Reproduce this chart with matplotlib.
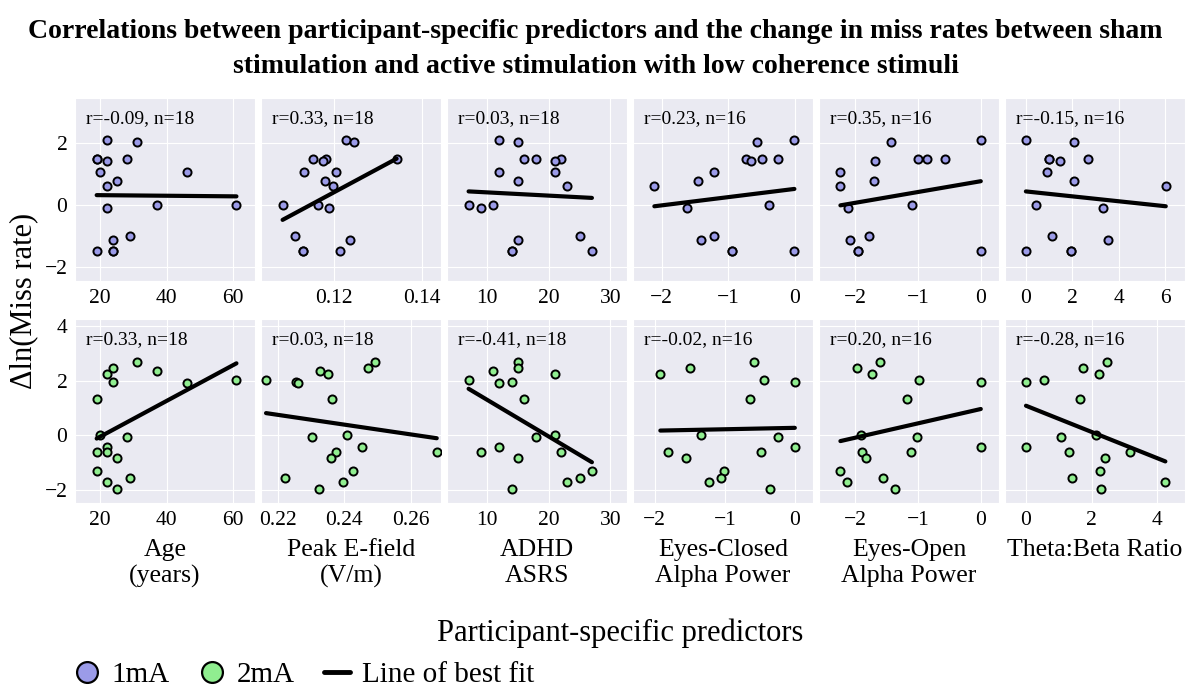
import numpy as np
import matplotlib.pyplot as plt
import seaborn as sns
from matplotlib.lines import Line2D
from matplotlib.ticker import MultipleLocator

sns.set_style('darkgrid')
plt.rcParams['font.family'] = ['Liberation Serif', 'DejaVu Serif']
plt.rcParams.update({'text.color': 'black', 'axes.labelcolor': 'black',
                     'xtick.color': 'black', 'ytick.color': 'black'})

predictors = ['Age\n(years)', 'Peak E-field\n(V/m)', 'ADHD\nASRS',
              'Eyes-Closed\nAlpha Power', 'Eyes-Open\nAlpha Power', 'Theta:Beta Ratio']

# 1mA group: change in ln(miss rate) and predictors, one entry per participant
dln_1ma = [2.09, 2.03, 1.49, 1.49, 1.49, 1.42, 1.06, 1.06, 0.78, 0.61,
           0.0, 0.0, -0.12, -1.01, -1.15, -1.51, -1.51, -1.51]
age_1ma = [22, 31, 19, 28, 19, 22, 20, 46, 25, 22, 37, 61, 22, 29, 24, 19, 24, 24]
efield_1ma = [0.1226, 0.1246, 0.1152, 0.1182, 0.1342, 0.1175, 0.1131, 0.1205, 0.1179,
              0.1198, 0.1083, 0.1164, 0.1188, 0.1111, 0.1236, 0.1130, 0.1214, 0.1130]
adhd_1ma = [12, 15, 16, 18, 22, 21, 12, 21, 15, 23, 7, 11, 9, 25, 15, 14, 27, 14]
ec_alpha_1ma = [-0.01, -0.57, -0.74, -0.49, -0.25, -0.66, -1.22, np.nan, -1.45, -2.11,
                -0.39, np.nan, -1.62, -1.22, -1.41, -0.94, -0.01, -0.94]
eo_alpha_1ma = [0.0, -1.43, -1.0, -0.85, -0.57, -1.68, -2.23, np.nan, -1.70, -2.23,
                -1.09, np.nan, -2.11, -1.77, -2.08, -1.95, 0.0, -1.95]
tbr_1ma = [0.0, 2.06, 0.99, 2.69, 0.99, 1.47, 0.91, np.nan, 2.06, 6.03,
           0.43, np.nan, 3.31, 1.14, 3.53, 0.0, 1.94, 1.94]
r_1ma = [-0.09, 0.33, 0.03, 0.23, 0.35, -0.15]
slope_1ma = [-0.00095, 76.4, -0.0105, 0.267, 0.350, -0.0796]
icpt_1ma = [0.328, -8.764, 0.504, 0.513, 0.76, 0.43]

# 2mA group
dln_2ma = [2.69, 2.46, 2.37, 2.26, 2.04, 1.97, 1.92, 1.35, 0.0, -0.07,
           -0.42, -0.61, -0.62, -0.81, -1.30, -1.54, -1.69, -1.97]
age_2ma = [31, 24, 37, 22, 61, 24, 46, 19, 20, 28, 22, 22, 19, 25, 19, 29, 22, 25]
efield_2ma = [0.2492, 0.2470, 0.2328, 0.2350, 0.2165, 0.2256, 0.2262, 0.2364, 0.2409,
              0.2303, 0.2452, 0.2374, 0.2677, 0.2359, 0.2425, 0.2221, 0.2395, 0.2325]
adhd_2ma = [15, 15, 11, 21, 7, 14, 12, 16, 21, 18, 12, 9, 22, 15, 27, 25, 23, 14]
ec_alpha_2ma = [-0.58, -1.49, np.nan, -1.92, -0.44, 0.0, np.nan, -0.64, -1.34, -0.24,
                0.0, -1.81, -0.48, -1.55, -1.01, -1.05, -1.22, -0.36]
eo_alpha_2ma = [-1.60, -1.97, np.nan, -1.73, -0.98, 0.0, np.nan, -1.17, -1.91, -1.02,
                0.0, -1.88, -1.11, -1.82, -2.23, -1.56, -2.12, -1.36]
tbr_2ma = [2.46, 1.75, np.nan, 2.23, 0.55, 0.0, np.nan, 1.65, 2.13, 1.06,
           0.0, 3.18, 1.31, 2.42, 2.25, 1.39, 4.25, 2.28]
r_2ma = [0.33, 0.03, -0.41, -0.02, 0.20, -0.28]
slope_2ma = [0.0656, -17.97, -0.1345, 0.052, 0.527, -0.48]
icpt_2ma = [-1.359, 4.71, 2.652, 0.28, 0.97, 1.09]

# axis ranges and tick steps per panel
xlim_1ma = [(12.5, 66.6), (0.1034, 0.1443), (3.5, 32.7), (-2.43, 0.27), (-2.57, 0.29), (-0.9, 6.86)]
xlim_2ma = [(12.5, 66.6), (0.215, 0.269), (3.5, 32.7), (-2.31, 0.26), (-2.57, 0.29), (-0.64, 4.85)]
xstep_1ma = [20, 0.02, 10, 1, 1, 2]
xstep_2ma = [20, 0.02, 10, 1, 1, 2]

rows = [
    dict(y=dln_1ma, xs=[age_1ma, efield_1ma, adhd_1ma, ec_alpha_1ma, eo_alpha_1ma, tbr_1ma],
         r=r_1ma, slope=slope_1ma, icpt=icpt_1ma, xlim=xlim_1ma, xstep=xstep_1ma,
         color='#9b9be8', ylim=(-2.48, 3.45), yticks=[-2, 0, 2]),
    dict(y=dln_2ma, xs=[age_2ma, efield_2ma, adhd_2ma, ec_alpha_2ma, eo_alpha_2ma, tbr_2ma],
         r=r_2ma, slope=slope_2ma, icpt=icpt_2ma, xlim=xlim_2ma, xstep=xstep_2ma,
         color='#90ee90', ylim=(-2.47, 4.25), yticks=[-2, 0, 2, 4]),
]

fig = plt.figure(figsize=(11.91, 6.88), dpi=100)
axes = fig.subplots(2, 6, sharey='row',
                    gridspec_kw=dict(left=0.063, right=0.995, top=0.8576, bottom=0.269,
                                     wspace=0.033, hspace=0.207))

for i, row in enumerate(rows):
    y = np.array(row['y'])
    for j in range(6):
        ax = axes[i, j]
        x = np.array(row['xs'][j], dtype=float)
        ok = ~np.isnan(x)
        ax.scatter(x[ok], y[ok], s=34, color=row['color'], edgecolors='black',
                   linewidths=1.4, zorder=3)
        # line of best fit over the range of the data
        xx = np.array([x[ok].min(), x[ok].max()])
        ax.plot(xx, row['slope'][j] * xx + row['icpt'][j], color='black', lw=3, zorder=4)
        ax.text(0.06, 0.935, f"r={row['r'][j]:.2f}, n={ok.sum()}", transform=ax.transAxes,
                va='top', ha='left', fontsize=14)
        ax.set_xlim(row['xlim'][j])
        ax.xaxis.set_major_locator(MultipleLocator(row['xstep'][j]))
        ax.set_ylim(row['ylim'])
        ax.tick_params(labelsize=15.5, pad=2)
        if i == 1:
            ax.set_xlabel(predictors[j], fontsize=18.5, labelpad=7)
    axes[i, 0].set_yticks(row['yticks'])

fig.suptitle('Correlations between participant-specific predictors and the change in miss rates between sham\n'
             'stimulation and active stimulation with low coherence stimuli',
             fontsize=20, fontweight='bold', y=0.972, linespacing=1.5)
fig.supylabel('\u0394ln(Miss rate)', fontsize=22, x=0.008, y=0.563)
fig.supxlabel('Participant-specific predictors', fontsize=22, x=0.521, y=0.058)

handles = [
    Line2D([], [], ls='none', marker='o', markersize=15, markerfacecolor='#9b9be8',
           markeredgecolor='black', markeredgewidth=1.6),
    Line2D([], [], ls='none', marker='o', markersize=15, markerfacecolor='#90ee90',
           markeredgecolor='black', markeredgewidth=1.6),
    Line2D([], [], color='black', lw=3.5),
]
fig.legend(handles, ['1mA', '2mA', 'Line of best fit'], loc='lower left',
           bbox_to_anchor=(0.04, -0.038), ncol=3, frameon=False, fontsize=21,
           handlelength=0.9, handletextpad=0.4, columnspacing=1.0)

fig.savefig('out.png', dpi=100)
